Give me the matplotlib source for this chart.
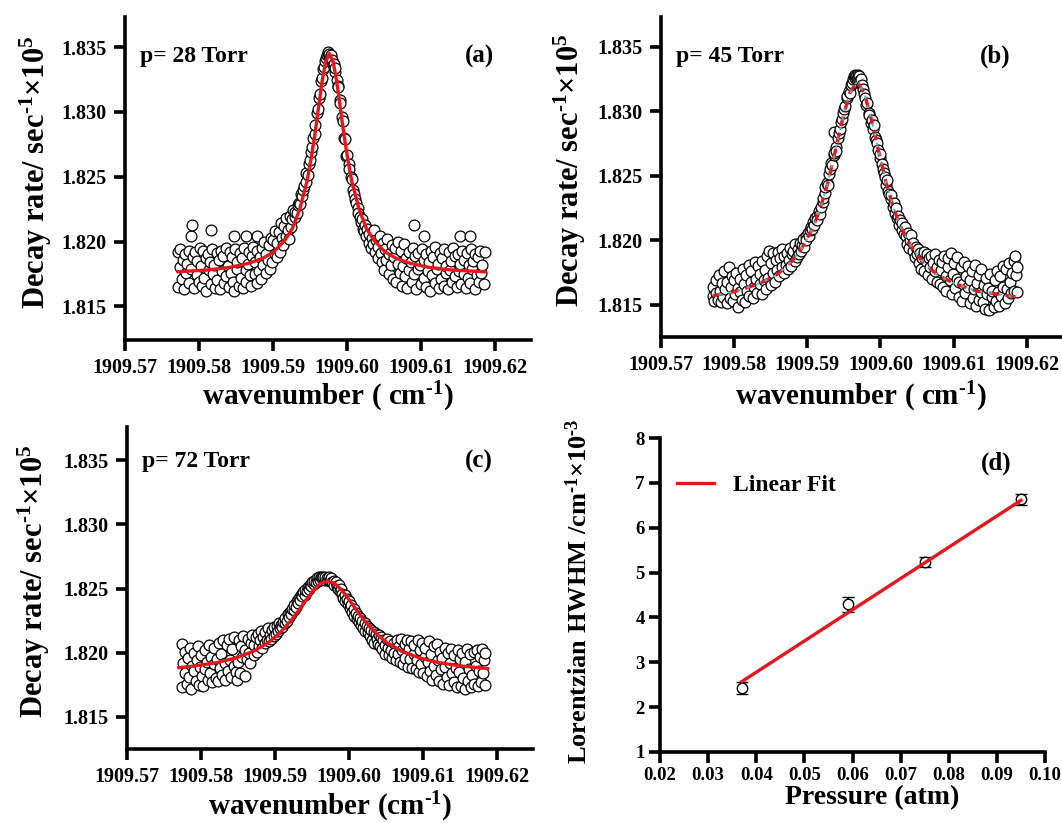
import matplotlib.pyplot as plt
import numpy as np

plt.rcParams['font.family'] = 'Liberation Serif'
plt.rcParams['font.weight'] = 'bold'
plt.rcParams['mathtext.fontset'] = 'custom'
plt.rcParams['mathtext.rm'] = 'Liberation Serif:bold'
plt.rcParams['mathtext.it'] = 'Liberation Serif:bold'
plt.rcParams['mathtext.bf'] = 'Liberation Serif:bold'
plt.rcParams['mathtext.default'] = 'rm'

# x values: units of 1e-4 cm^-1 above 1909.57 ; y values: units of 1e-3 above 1.800 (x10^5 s^-1)
X0 = 1909.57
Y0 = 1.800

# (a) p = 28 Torr
xa = [72, 72, 74, 75, 77, 78, 80, 81, 83, 84,
      86, 87, 89, 90, 91, 92, 94, 95, 97, 98,
      100, 101, 103, 104, 106, 107, 109, 110, 112, 113,
      115, 116, 116, 118, 119, 121, 122, 124, 125, 127,
      128, 130, 131, 133, 134, 136, 137, 139, 140, 142,
      143, 145, 146, 148, 148, 149, 151, 152, 154, 155,
      157, 158, 160, 161, 163, 164, 164, 166, 167, 169,
      170, 172, 173, 175, 176, 178, 178, 179, 181, 182,
      184, 185, 187, 188, 190, 191, 193, 194, 196, 197,
      199, 200, 202, 203, 205, 206, 208, 209, 211, 212,
      214, 215, 217, 218, 220, 221, 223, 224, 226, 227,
      229, 230, 232, 233, 235, 236, 238, 239, 241, 242,
      244, 245, 247, 248, 250, 251, 253, 254, 256, 257,
      259, 260, 262, 263, 265, 266, 268, 269, 270, 272,
      273, 274, 275, 276, 277, 278, 279, 280, 281, 282,
      283, 284, 286, 287, 288, 290, 291, 293, 294, 296,
      297, 299, 300, 302, 303, 305, 306, 308, 309, 311,
      312, 314, 315, 317, 318, 320, 321, 323, 324, 326,
      327, 329, 330, 332, 333, 335, 336, 338, 339, 341,
      342, 344, 345, 347, 348, 350, 351, 353, 354, 356,
      357, 359, 360, 362, 363, 365, 366, 368, 369, 371,
      372, 374, 375, 377, 378, 380, 381, 383, 384, 386,
      387, 389, 390, 390, 392, 393, 395, 396, 398, 399,
      401, 403, 403, 404, 406, 407, 409, 410, 412, 413,
      415, 416, 418, 419, 421, 422, 424, 425, 427, 428,
      430, 431, 433, 434, 436, 437, 439, 440, 442, 443,
      445, 446, 448, 449, 451, 452, 452, 454, 455, 457,
      458, 460, 461, 463, 464, 466, 466, 467, 469, 470,
      472, 473, 475, 476, 478, 479, 481, 482, 484, 486]
ya = [19.2, 16.5, 18.0, 19.4, 17.1, 18.6, 16.3, 19.0, 17.6, 18.3,
      16.8, 19.3, 17.9, 20.4, 21.3, 18.8, 16.4, 19.2, 17.4, 18.5,
      16.9, 19.5, 18.1, 16.6, 19.3, 17.2, 18.7, 16.2, 19.0, 17.8,
      18.4, 20.9, 16.7, 19.4, 17.5, 18.2, 16.4, 19.1, 17.0, 18.6,
      16.3, 19.3, 17.7, 18.9, 16.8, 19.5, 17.3, 18.1, 16.5, 19.2,
      17.6, 18.8, 16.9, 20.4, 16.2, 19.4, 17.9, 18.4, 16.6, 19.1,
      17.2, 18.7, 16.4, 19.5, 17.8, 20.4, 16.9, 18.3, 19.2, 17.4,
      16.6, 18.9, 19.6, 17.5, 18.4, 20.4, 16.8, 19.3, 17.7, 18.8,
      17.1, 19.5, 18.2, 20.0, 17.6, 19.0, 18.6, 19.7, 17.9, 20.3,
      18.4, 20.1, 19.0, 20.8, 18.8, 19.9, 20.7, 19.2, 21.4, 20.3,
      19.7, 21.2, 20.4, 21.8, 20.9, 20.2, 22.0, 21.1, 21.7, 22.4,
      21.9, 22.3, 22.2, 22.8, 23.0, 22.9, 23.7, 23.5, 24.0, 24.3,
      24.6, 25.3, 25.1, 26.0, 26.3, 26.9, 27.3, 28.0, 28.3, 29.0,
      29.9, 30.2, 31.1, 31.4, 32.4, 32.6, 33.3, 33.5, 33.9, 34.2,
      34.4, 34.6, 34.3, 34.5, 34.2, 34.4, 33.9, 34.0, 33.6, 33.7,
      33.1, 33.4, 32.5, 32.0, 31.9, 30.9, 30.7, 29.6, 29.3, 28.0,
      27.9, 26.6, 26.7, 26.0, 25.6, 25.0, 24.8, 24.0, 23.7, 23.3,
      23.0, 22.6, 22.2, 21.9, 21.5, 21.7, 21.0, 20.8, 21.3, 20.4,
      21.0, 19.9, 20.6, 19.5, 20.3, 19.8, 20.9, 19.2, 20.1, 19.6,
      18.7, 20.4, 19.1, 18.4, 19.9, 17.8, 19.4, 18.6, 20.2, 17.5,
      19.0, 18.2, 19.7, 17.1, 18.8, 19.5, 16.9, 18.3, 20.0, 17.6,
      19.3, 16.6, 18.1, 19.8, 17.3, 18.7, 16.4, 19.2, 17.8, 18.4,
      16.9, 19.5, 21.3, 17.5, 18.9, 16.3, 19.1, 17.9, 18.2, 16.7,
      19.4, 20.4, 17.2, 18.6, 16.5, 19.0, 17.7, 18.4, 16.2, 19.3,
      17.4, 18.8, 16.8, 19.6, 17.9, 18.3, 16.4, 19.1, 17.1, 18.7,
      16.6, 19.4, 17.6, 18.1, 16.3, 19.2, 17.8, 18.5, 16.9, 19.5,
      17.3, 18.9, 16.5, 19.0, 17.7, 20.4, 18.3, 16.7, 19.3, 17.5,
      18.6, 16.4, 19.1, 17.2, 18.2, 20.4, 16.8, 19.4, 17.9, 18.5,
      16.3, 19.0, 17.4, 18.8, 16.9, 19.3, 17.6, 18.2, 16.7, 19.2]
fit_xa = [72, 111, 141, 166, 186, 201, 216, 226, 236, 246, 251, 256, 261, 266, 271, 276,
          281, 286, 291, 296, 301, 306, 316, 326, 336, 351, 366, 386, 411, 441, 486]
fit_ya = [17.67, 17.8, 18.0, 18.3, 18.7, 19.2, 20.1, 21.0, 22.5, 24.7, 26.3, 28.1, 30.2, 32.3, 33.9, 34.5,
          33.9, 32.3, 30.2, 28.1, 26.3, 24.7, 22.5, 21.0, 20.1, 19.2, 18.7, 18.3, 18.0, 17.8, 17.66]

# (b) p = 45 Torr
xb = [71, 72, 73, 75, 76, 78, 79, 81, 82, 84,
      85, 87, 88, 90, 91, 93, 94, 96, 97, 99,
      100, 102, 103, 105, 106, 108, 109, 111, 112, 114,
      115, 117, 118, 120, 121, 123, 124, 126, 127, 129,
      130, 132, 133, 135, 136, 138, 139, 141, 142, 144,
      145, 147, 148, 150, 151, 153, 154, 156, 157, 159,
      160, 162, 163, 165, 166, 168, 169, 171, 172, 174,
      175, 177, 178, 180, 181, 183, 184, 186, 187, 189,
      190, 192, 193, 195, 196, 198, 199, 201, 202, 204,
      205, 207, 208, 210, 211, 213, 214, 216, 217, 219,
      221, 222, 224, 225, 227, 228, 230, 231, 233, 234,
      236, 236, 237, 239, 240, 242, 243, 245, 246, 248,
      249, 251, 252, 254, 255, 257, 258, 260, 261, 263,
      264, 265, 266, 267, 268, 269, 270, 271, 272, 273,
      275, 276, 278, 279, 281, 282, 284, 285, 287, 288,
      290, 291, 293, 294, 296, 297, 299, 300, 302, 303,
      305, 306, 308, 309, 311, 312, 314, 315, 317, 318,
      320, 321, 323, 324, 326, 327, 329, 330, 332, 333,
      335, 336, 338, 339, 341, 342, 344, 345, 347, 348,
      350, 351, 353, 354, 356, 357, 359, 360, 362, 363,
      365, 366, 368, 369, 371, 372, 374, 375, 377, 378,
      380, 381, 383, 384, 386, 387, 389, 390, 392, 393,
      395, 396, 398, 399, 401, 402, 404, 405, 407, 408,
      410, 411, 413, 414, 416, 417, 419, 420, 422, 423,
      425, 426, 428, 429, 431, 432, 434, 435, 437, 438,
      440, 441, 443, 444, 446, 447, 449, 450, 452, 453,
      455, 456, 458, 459, 461, 462, 464, 465, 467, 468,
      470, 471, 473, 474, 476, 477, 479, 480, 482, 483,
      484, 485, 486, 486]
yb = [15.7, 16.4, 15.3, 16.9, 15.9, 15.4, 17.3, 16.1, 15.2, 16.7,
      15.6, 17.6, 16.2, 15.1, 16.8, 17.9, 15.5, 16.4, 17.2, 15.3,
      16.9, 15.8, 17.5, 16.3, 14.8, 17.0, 16.0, 15.4, 17.8, 16.6,
      15.2, 17.3, 16.1, 18.1, 15.7, 16.8, 17.6, 15.5, 16.4, 18.3,
      17.0, 15.9, 18.0, 16.6, 17.4, 15.8, 18.4, 16.9, 17.7, 16.2,
      18.8, 17.1, 19.2, 16.5, 18.2, 17.5, 19.0, 16.8, 18.5, 17.7,
      19.1, 17.2, 18.6, 17.9, 19.3, 17.5, 18.8, 18.1, 19.0, 17.8,
      18.5, 19.4, 18.0, 18.9, 19.2, 18.4, 19.7, 18.7, 19.3, 18.9,
      19.8, 19.2, 19.6, 20.1, 19.5, 20.3, 20.0, 20.6, 20.3, 20.8,
      21.0, 20.9, 21.4, 21.2, 21.7, 21.9, 21.6, 22.3, 22.0, 22.6,
      23.0, 23.3, 23.7, 24.1, 24.4, 24.3, 25.1, 25.5, 26.0, 25.8,
      28.4, 26.6, 26.8, 27.2, 26.9, 27.9, 28.3, 28.6, 29.2, 29.4,
      29.9, 30.2, 30.4, 31.0, 31.2, 31.6, 31.4, 32.0, 32.2, 32.5,
      32.7, 32.6, 32.8, 32.7, 32.5, 32.8, 32.6, 32.7, 32.4, 32.5,
      32.0, 31.7, 31.3, 31.0, 30.5, 30.6, 29.9, 29.7, 29.1, 29.3,
      28.6, 28.9, 28.0, 27.8, 27.5, 27.0, 26.4, 26.7, 25.9, 25.5,
      25.2, 24.9, 24.3, 24.7, 23.8, 23.6, 23.2, 23.5, 22.6, 22.9,
      22.1, 22.5, 21.7, 21.9, 21.2, 21.6, 20.8, 21.3, 20.5, 21.0,
      20.3, 19.7, 20.6, 19.4, 20.0, 20.4, 19.2, 19.8, 18.7, 19.5,
      18.9, 19.3, 18.2, 19.0, 17.8, 18.6, 19.1, 17.6, 18.4, 18.9,
      17.3, 18.6, 17.9, 18.8, 17.0, 18.2, 17.6, 18.9, 16.8, 17.9,
      18.5, 16.6, 17.7, 18.3, 16.4, 18.8, 17.2, 16.1, 17.9, 18.6,
      16.9, 19.0, 15.8, 17.4, 18.2, 16.3, 17.0, 18.7, 15.6, 16.8,
      17.9, 15.3, 16.6, 18.3, 15.9, 17.2, 16.4, 18.0, 15.1, 16.9,
      17.6, 15.5, 16.2, 18.1, 14.9, 16.7, 17.3, 15.4, 16.0, 17.8,
      15.2, 16.5, 14.7, 17.1, 15.8, 16.3, 14.6, 17.4, 15.6, 16.1,
      14.8, 16.9, 15.3, 17.6, 16.0, 14.9, 17.2, 15.7, 16.4, 18.0,
      15.1, 17.8, 16.2, 15.5, 18.2, 16.8, 15.9, 17.5, 18.4, 16.1,
      18.8, 17.3, 16.0, 17.9]
fit_xb = [71, 103, 133, 158, 178, 193, 208, 218, 228, 238, 248, 258, 268,
          278, 288, 298, 308, 318, 328, 343, 358, 378, 403, 433, 486]
fit_yb = [15.7, 16.05, 16.6, 17.3, 18.3, 19.4, 21.0, 22.5, 24.4, 26.8, 29.3, 31.4, 32.3,
          31.4, 29.3, 26.8, 24.4, 22.5, 21.0, 19.4, 18.3, 17.3, 16.6, 16.05, 15.6]

# (c) p = 72 Torr
xc = [74, 75, 76, 78, 79, 81, 82, 84, 85, 87,
      88, 90, 91, 93, 94, 96, 97, 99, 100, 102,
      103, 105, 106, 108, 109, 111, 112, 114, 115, 117,
      118, 120, 121, 123, 124, 126, 127, 129, 130, 132,
      133, 135, 136, 138, 139, 141, 142, 144, 145, 147,
      148, 150, 151, 153, 154, 156, 157, 159, 160, 162,
      163, 165, 166, 168, 169, 171, 172, 174, 175, 177,
      178, 180, 181, 183, 184, 186, 187, 189, 190, 192,
      193, 195, 196, 198, 199, 201, 202, 204, 205, 207,
      208, 210, 211, 213, 214, 216, 217, 219, 220, 222,
      223, 225, 226, 228, 229, 231, 232, 234, 235, 237,
      238, 240, 241, 243, 244, 246, 247, 249, 250, 252,
      253, 255, 256, 258, 259, 261, 262, 264, 265, 267,
      268, 270, 271, 273, 274, 276, 277, 279, 280, 282,
      283, 285, 286, 288, 289, 291, 292, 294, 295, 297,
      298, 300, 301, 303, 304, 306, 307, 309, 310, 312,
      313, 315, 316, 318, 319, 321, 322, 324, 325, 327,
      328, 330, 331, 333, 334, 336, 337, 339, 340, 342,
      343, 345, 346, 348, 349, 351, 352, 354, 355, 357,
      358, 360, 361, 363, 364, 366, 367, 369, 370, 372,
      373, 375, 376, 378, 379, 381, 382, 384, 385, 387,
      388, 390, 391, 393, 394, 396, 397, 399, 400, 402,
      403, 405, 406, 408, 409, 411, 412, 414, 415, 417,
      418, 420, 421, 423, 424, 426, 427, 429, 430, 432,
      433, 435, 436, 438, 439, 441, 442, 444, 445, 447,
      448, 450, 451, 453, 454, 456, 457, 459, 460, 462,
      463, 465, 466, 468, 469, 471, 472, 474, 475, 477,
      478, 480, 481, 482, 483, 484]
yc = [20.7, 17.3, 19.2, 18.4, 20.1, 17.6, 19.6, 18.1, 20.4, 17.2,
      19.0, 18.6, 20.0, 17.8, 19.4, 20.5, 17.5, 18.9, 19.8, 18.2,
      17.4, 20.2, 18.7, 19.3, 17.9, 20.6, 18.4, 19.7, 17.7, 19.1,
      20.4, 18.0, 19.5, 17.8, 20.8, 18.8, 19.9, 18.3, 21.0, 19.2,
      17.9, 20.6, 18.6, 21.1, 19.4, 18.1, 20.3, 19.0, 21.2, 18.5,
      17.9, 19.3, 21.0, 18.4, 20.5, 19.7, 21.3, 18.2, 20.2, 19.5,
      21.1, 20.0, 19.2, 20.8, 21.4, 19.8, 20.6, 21.2, 20.1, 21.5,
      20.5, 21.0, 21.7, 20.4, 21.2, 20.8, 21.6, 21.0, 21.9, 20.9,
      21.4, 21.1, 21.8, 21.3, 22.0, 21.5, 22.1, 21.7, 22.3, 21.9,
      22.2, 22.0, 22.4, 22.3, 22.7, 22.5, 23.0, 22.8, 23.2, 23.0,
      23.4, 23.3, 23.7, 23.6, 24.0, 23.9, 24.3, 24.1, 24.5, 24.4,
      24.7, 24.5, 24.9, 24.8, 25.1, 25.0, 25.3, 25.2, 25.5, 25.4,
      25.6, 25.5, 25.8, 25.6, 25.9, 25.7, 25.9, 25.8, 25.9, 25.7,
      25.9, 25.8, 25.7, 25.9, 25.6, 25.8, 25.5, 25.6, 25.3, 25.5,
      25.2, 25.0, 25.3, 24.8, 25.0, 24.6, 24.3, 24.5, 24.0, 24.2,
      23.8, 24.0, 23.5, 23.7, 23.2, 23.4, 22.9, 23.1, 22.6, 22.9,
      22.4, 22.7, 22.2, 22.5, 21.9, 22.3, 21.7, 22.1, 21.6, 21.9,
      21.3, 21.8, 21.0, 21.6, 20.8, 21.5, 21.1, 20.7, 21.4, 20.5,
      21.2, 20.3, 21.0, 20.6, 19.9, 21.1, 20.4, 19.8, 20.9, 20.2,
      19.6, 20.8, 20.0, 19.4, 21.0, 19.9, 20.5, 19.3, 21.1, 20.2,
      19.1, 20.7, 19.6, 21.0, 18.9, 20.3, 19.5, 20.9, 18.8, 19.9,
      20.6, 18.7, 19.4, 21.0, 18.5, 20.2, 19.1, 20.8, 18.4, 19.7,
      20.4, 18.2, 19.3, 20.9, 18.6, 19.9, 17.9, 20.5, 19.0, 18.3,
      20.7, 19.4, 17.8, 20.1, 18.7, 19.6, 17.6, 20.4, 18.9, 18.1,
      20.0, 17.5, 19.2, 20.3, 18.4, 17.7, 19.8, 18.8, 17.3, 20.2,
      18.5, 19.5, 17.4, 20.0, 18.0, 17.2, 19.3, 20.3, 17.8, 18.7,
      19.9, 17.3, 18.3, 20.1, 17.6, 19.0, 20.2, 17.4, 18.6, 19.7,
      17.7, 20.3, 18.4, 19.4, 17.5, 20.0]
fit_xc = [70, 91, 121, 146, 171, 191, 206, 221, 231, 241, 251, 261, 271,
          281, 291, 301, 311, 321, 336, 351, 371, 396, 421, 451, 487]
fit_yc = [18.84, 18.97, 19.23, 19.58, 20.12, 20.8, 21.52, 22.48, 23.24, 24.06, 24.82, 25.39, 25.6,
          25.39, 24.82, 24.06, 23.24, 22.48, 21.52, 20.8, 20.12, 19.58, 19.23, 18.97, 18.77]

# (d) Lorentzian HWHM vs pressure
pressure = [0.037, 0.059, 0.075, 0.095]
hwhm = [2.43, 4.29, 5.23, 6.63]
hwhm_err = [0.13, 0.16, 0.11, 0.13]
fit_p = [0.037, 0.095]
fit_hwhm = [2.57, 6.61]

wn_ticks = [1909.57, 1909.58, 1909.59, 1909.60, 1909.61, 1909.62]
wn_labels = ['1909.57', '1909.58', '1909.59', '1909.60', '1909.61', '1909.62']
rate_ticks = [1.815, 1.820, 1.825, 1.830, 1.835]
rate_labels = ['1.815', '1.820', '1.825', '1.830', '1.835']

RED = '#e8161c'
ylab = r'Decay rate/ sec$^{\text{-}1}$$\times$10$^{5}$'


def style(ax, fs, pad):
    ax.spines['top'].set_visible(False)
    ax.spines['right'].set_visible(False)
    ax.spines['left'].set_linewidth(2.6)
    ax.spines['bottom'].set_linewidth(2.6)
    ax.tick_params(direction='out', length=8, width=2.6, labelsize=fs, pad=pad)
    for t in ax.get_xticklabels() + ax.get_yticklabels():
        t.set_fontweight('bold')


def spectrum(ax, xs, ys, fx, fy, ylim, ptext, letter, letter_x, text_y, xlab, ylab_x, dashed=False):
    x = X0 + np.array(xs) * 1e-4
    y = Y0 + np.array(ys) * 1e-3
    ax.plot(x, y, 'o', ms=7.8, mfc='white', mec='black', mew=0.9, zorder=2)
    fxx = X0 + np.array(fx) * 1e-4
    fyy = Y0 + np.array(fy) * 1e-3
    if dashed:
        ax.plot(fxx, fyy, color=RED, lw=2.4, ls=(0, (3, 2)), zorder=3)
        ax.plot(fxx, fyy, color='#33c4c4', lw=1.4, ls=(2, (1.5, 3.5)), zorder=4)
    else:
        ax.plot(fxx, fyy, color=RED, lw=2.4, zorder=3)
    ax.set_xlim(1909.57, 1909.6248)
    ax.set_ylim(*ylim)
    ax.set_xticks(wn_ticks)
    ax.set_xticklabels(wn_labels)
    ax.set_yticks(rate_ticks)
    ax.set_yticklabels(rate_labels)
    style(ax, 14.5, 5)
    ax.text(0.038, text_y, ptext, transform=ax.transAxes, fontsize=17, fontweight='bold', va='center')
    ax.text(letter_x, text_y, letter, transform=ax.transAxes, fontsize=18, fontweight='bold',
            va='center', ha='center')
    ax.set_xlabel(xlab, fontsize=21, fontweight='bold')
    ax.set_ylabel(ylab, fontsize=22, fontweight='bold')
    ax.yaxis.set_label_coords(ylab_x, 0.52)


fig = plt.figure(figsize=(10.62, 8.23), dpi=100)
ax_a = fig.add_axes([0.1175, 0.5869, 0.3825, 0.392])
ax_b = fig.add_axes([0.6221, 0.5905, 0.3779, 0.3888])
ax_c = fig.add_axes([0.1195, 0.0899, 0.3822, 0.3913])
ax_d = fig.add_axes([0.6215, 0.0863, 0.3625, 0.3815])

spectrum(ax_a, xa, ya, fit_xa, fit_ya, (1.8124, 1.8373), 'p= 28 Torr', '(a)', 0.872, 0.878,
         r'wavenumber ( cm$^{\text{-}1}$)', -0.175)
spectrum(ax_b, xb, yb, fit_xb, fit_yb, (1.8125, 1.8373), 'p= 45 Torr', '(b)', 0.833, 0.876,
         r'wavenumber ( cm$^{\text{-}1}$)', -0.18, dashed=True)
spectrum(ax_c, xc, yc, fit_xc, fit_yc, (1.8125, 1.8376), 'p= 72 Torr', '(c)', 0.867, 0.892,
         r'wavenumber (cm$^{\text{-}1}$)', -0.185)
ax_a.xaxis.set_label_coords(0.5, -0.125)
ax_b.xaxis.set_label_coords(0.5, -0.135)
ax_c.xaxis.set_label_coords(0.5, -0.128)

# (d)
ax_d.errorbar(pressure, hwhm, yerr=hwhm_err, fmt='o', ms=7.5, mfc='white', mec='black', mew=1.0,
              ecolor='black', elinewidth=1.5, capsize=4, capthick=1.5, zorder=2)
ax_d.plot(fit_p, fit_hwhm, color=RED, lw=2.4, label='Linear Fit', zorder=3)
ax_d.set_xlim(0.02, 0.10)
ax_d.set_ylim(1, 8)
ax_d.set_xticks([0.02, 0.03, 0.04, 0.05, 0.06, 0.07, 0.08, 0.09, 0.10])
ax_d.set_xticklabels(['0.02', '0.03', '0.04', '0.05', '0.06', '0.07', '0.08', '0.09', '0.10'])
ax_d.set_yticks([1, 2, 3, 4, 5, 6, 7, 8])
style(ax_d, 13.5, 3)
ax_d.legend(loc='upper left', bbox_to_anchor=(0.0, 0.935), frameon=False, fontsize=17,
            handlelength=1.6, borderaxespad=0.3)
ax_d.text(0.874, 0.92, '(d)', transform=ax_d.transAxes, fontsize=18, fontweight='bold',
          va='center', ha='center')
ax_d.set_xlabel('Pressure (atm)', fontsize=20, fontweight='bold')
ax_d.xaxis.set_label_coords(0.55, -0.105)
ax_d.set_ylabel(r'Lorentzian HWHM /cm$^{\text{-}1}$$\times$10$^{\text{-}3}$', fontsize=19, fontweight='bold')
ax_d.yaxis.set_label_coords(-0.177, 0.513)

fig.savefig('out.png', dpi=100)
